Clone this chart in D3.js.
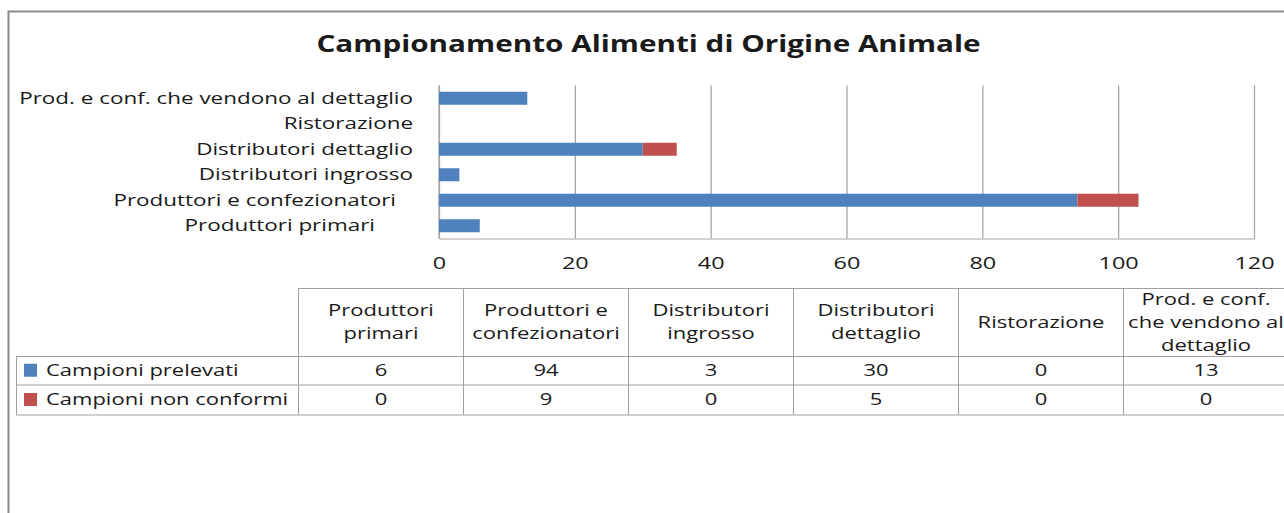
<!DOCTYPE html>
<html><head><meta charset="utf-8">
<script src="https://cdn.jsdelivr.net/npm/d3@7"></script>
<style>
body{margin:0;background:#fff;overflow:hidden}
text{font-family:"Open Sans",sans-serif;fill:#1a1a1a}
</style></head>
<body><svg id="c" width="1284" height="513"></svg>
<script>
// ---- data ----
const title = "Campionamento Alimenti di Origine Animale";
const categories = ["Produttori primari","Produttori e confezionatori","Distributori ingrosso","Distributori dettaglio","Ristorazione","Prod. e conf. che vendono al dettaglio"];
const headerLines = [["Produttori","primari"],["Produttori e","confezionatori"],["Distributori","ingrosso"],["Distributori","dettaglio"],["Ristorazione"],["Prod. e conf.","che vendono al","dettaglio"]];
const seriesNames = ["Campioni prelevati","Campioni non conformi"];
const prelevati = [6,94,3,30,0,13];
const nonConformi = [0,9,0,5,0,0];
const xTicks = [0,20,40,60,80,100,120];

// ---- style ----
const colors = ["#4f81bd","#c0504d"];
const SX = 1.42, SXY = 1.36, SXT = 1.32, FS = 15.5, FT = 22.5;
const svg = d3.select("#c");

function txt(g, x, y, s, anchor, size, sx, weight){
  return g.append("text")
    .attr("transform", `translate(${x},${y}) scale(${sx||SX},1)`)
    .attr("text-anchor", anchor||"start")
    .style("font-size", (size||FS)+"px")
    .style("font-weight", weight||"normal")
    .text(s);
}

// outer border
svg.append("rect").attr("x",8.5).attr("y",11.5).attr("width",1400).attr("height",600)
  .attr("fill","none").attr("stroke","#8c8c8c").attr("stroke-width",2);

// title
txt(svg, 648.5, 52, title, "middle", FT, SXT, "bold");

// scales
const x = d3.scaleLinear().domain([0,120]).range([439,1254]);
const y = d3.scaleBand().domain(categories).range([238.5,85.5]).paddingInner(0.49).paddingOuter(0.245);

// grid + axis
const ax = d3.axisBottom(x).tickValues(xTicks).tickSize(-(238.5-85.5)).tickFormat(d3.format("d"));
const gx = svg.append("g").attr("transform","translate(0,238.5)").call(ax);
gx.select(".domain").attr("stroke","#a6a6a6");
gx.selectAll(".tick line").attr("stroke","#a6a6a6").attr("stroke-width",1.3);
gx.selectAll(".tick text").remove();
gx.selectAll(".tick").each(function(d){
  txt(d3.select(this), 0, 30, d3.format("d")(d), "middle", 16.5);
});
svg.append("line").attr("x1",x(0)).attr("x2",x(0)).attr("y1",85.5).attr("y2",238.5).attr("stroke","#a6a6a6").attr("stroke-width",1.3);

// stacked bars
const stacked = categories.map((c,i)=>({c, a:prelevati[i], b:nonConformi[i]}));
const bh = y.bandwidth();
svg.append("g").selectAll("rect.a").data(stacked).join("rect")
  .attr("x",x(0)).attr("y",d=>y(d.c)).attr("height",bh)
  .attr("width",d=>x(d.a)-x(0)).attr("fill",colors[0]);
svg.append("g").selectAll("rect.b").data(stacked).join("rect")
  .attr("x",d=>x(d.a)).attr("y",d=>y(d.c)).attr("height",bh)
  .attr("width",d=>x(d.a+d.b)-x(d.a)).attr("fill",colors[1]);

// y labels (Excel label padding)
const yPad = [38, 17, 0, 0, 0, 0];
const gy = svg.append("g");
categories.forEach((c,i)=>{
  txt(gy, 413 - yPad[i], y(c)+bh/2+5.5, c, "end", 16.5, SXY);
});

// ---- data table ----
const colX = d3.range(categories.length+1).map(i=>298+i*165);
const rowY = [288, 356, 384.5, 414.5];
const tg = svg.append("g");
const lc = "#a0a0a0";
tg.append("line").attr("x1",298).attr("x2",1300).attr("y1",rowY[0]+.5).attr("y2",rowY[0]+.5).attr("stroke",lc);
[1,2,3].forEach(r=>tg.append("line").attr("x1",16).attr("x2",1300).attr("y1",rowY[r]+.5).attr("y2",rowY[r]+.5).attr("stroke",lc));
tg.append("line").attr("x1",16.5).attr("x2",16.5).attr("y1",rowY[1]).attr("y2",rowY[3]).attr("stroke",lc);
colX.forEach(cx=>tg.append("line").attr("x1",cx+.5).attr("x2",cx+.5).attr("y1",rowY[0]).attr("y2",rowY[3]).attr("stroke",lc));
headerLines.forEach((lines,i)=>{
  const cx = colX[i]+83;
  const cy = (rowY[0]+rowY[1])/2;
  const lh = 23;
  lines.forEach((l,k)=>{
    txt(tg, cx, cy + (k-(lines.length-1)/2)*lh + 5.5, l, "middle", FS);
  });
});
[prelevati, nonConformi].forEach((vals,r)=>{
  const cy = (rowY[r+1]+rowY[r+2])/2;
  tg.append("rect").attr("x",24).attr("y",cy-6.5).attr("width",13).attr("height",13).attr("fill",colors[r]);
  txt(tg, 46, cy+5.5, seriesNames[r], "start", FS);
  vals.forEach((v,i)=>txt(tg, colX[i]+83, cy+5.5, String(v), "middle", FS));
});
</script></body></html>
